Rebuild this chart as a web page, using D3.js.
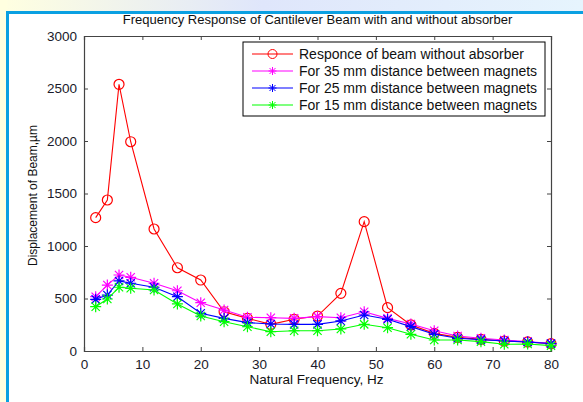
<!DOCTYPE html>
<html>
<head>
<meta charset="utf-8">
<script src="https://cdn.jsdelivr.net/npm/d3@7"></script>
<style>
  body { margin: 0; background: #fff; }
  svg { display: block; font-family: "Liberation Sans", Arial, sans-serif; }
</style>
</head>
<body>
<div id="chart"></div>
<script>
let freq = [2, 4, 6, 8, 12, 16, 20, 24, 28, 32, 36, 40, 44, 48, 52, 56, 60, 64, 68, 72, 76, 80];

let noAbsorber = [1270, 1438, 2540, 1993, 1162, 793, 676, 374, 311, 254, 302, 333, 549, 1232, 413, 248, 168, 130, 111, 95, 86, 70];
let mm35 = [517, 628, 724, 702, 645, 574, 460, 390, 321, 317, 311, 327, 317, 374, 311, 257, 193, 143, 121, 105, 90, 70];
let mm25 = [492, 533, 667, 645, 607, 517, 359, 311, 270, 257, 254, 254, 286, 343, 302, 232, 159, 121, 108, 95, 86, 70];
let mm15 = [422, 495, 607, 597, 581, 448, 333, 279, 231, 184, 193, 193, 210, 254, 222, 159, 105, 105, 89, 64, 67, 51];

let seriesNames = [
  "Responce of beam without absorber",
  "For 35 mm distance between magnets",
  "For 25 mm distance between magnets",
  "For 15 mm distance between magnets",
];
let seriesColors = ["#ff0000", "#ff00ff", "#0000ff", "#00ff00"];
let seriesMarkers = ["circle", "star", "star", "star"];

let xTicks = [0, 10, 20, 30, 40, 50, 60, 70, 80];
let yTicks = [0, 500, 1000, 1500, 2000, 2500, 3000];

let W = 583, H = 402;
let padL = 84, padR = 551, padT = 36, padB = 351;

let svg = d3.select("#chart").append("svg").attr("width", W).attr("height", H);

// slide frame
let defs = svg.append("defs");
let grad = defs.append("linearGradient").attr("id", "topgrad");
grad.append("stop").attr("offset", "0%").attr("stop-color", "#ffffe0");
grad.append("stop").attr("offset", "45%").attr("stop-color", "#dfe6fb");
grad.append("stop").attr("offset", "100%").attr("stop-color", "#e6f4fd");
svg.append("rect").attr("x", 0).attr("y", 0).attr("width", W).attr("height", 12).attr("fill", "url(#topgrad)");
svg.append("rect").attr("x", 0).attr("y", 0).attr("width", 7).attr("height", H).attr("fill", "#ffffe0");
svg.append("rect").attr("x", 7).attr("y", 11).attr("width", W - 7).attr("height", 3).attr("fill", "#0aa0e2");
svg.append("rect").attr("x", 6).attr("y", 11).attr("width", 3).attr("height", H - 11).attr("fill", "#0aa0e2");

let x = d3.scaleLinear().domain([0, 80]).range([padL, padR]);
let y = d3.scaleLinear().domain([0, 3000]).range([padB, padT]);

let axisColor = "#444";

// ticks on all four sides, pointing inward
let xAxisB = d3.axisBottom(x).tickValues(xTicks).tickSize(-4).tickPadding(8).tickFormat(d3.format("d"));
let xAxisT = d3.axisTop(x).tickValues(xTicks).tickSize(-4).tickFormat("");
let yAxisL = d3.axisLeft(y).tickValues(yTicks).tickSize(-4).tickPadding(7).tickFormat(d3.format("d"));
let yAxisR = d3.axisRight(y).tickValues(yTicks).tickSize(-4).tickFormat("");

function styleAxis(g) {
  g.select(".domain").attr("stroke", axisColor).attr("stroke-width", 1.2);
  g.selectAll(".tick line").attr("stroke", axisColor);
  g.selectAll(".tick text").attr("fill", "#1a1a2a").style("font-size", "13.5px");
}

svg.append("g").attr("transform", "translate(0," + padB + ")").call(xAxisB).call(styleAxis);
svg.append("g").attr("transform", "translate(0," + padT + ")").call(xAxisT).call(styleAxis);
svg.append("g").attr("transform", "translate(" + padL + ",0)").call(yAxisL).call(styleAxis);
svg.append("g").attr("transform", "translate(" + padR + ",0)").call(yAxisR).call(styleAxis);

// series
let allSeries = [noAbsorber, mm35, mm25, mm15];
let line = d3.line().x((d) => x(d[0])).y((d) => y(d[1]));

function starPath(r) {
  let a = r * 0.75;
  return "M" + -r + ",0L" + r + ",0M0," + -r + "L0," + r +
    "M" + -a + "," + -a + "L" + a + "," + a + "M" + -a + "," + a + "L" + a + "," + -a;
}

allSeries.forEach(function (vals, i) {
  let pts = freq.map((f, j) => [f, vals[j]]);
  svg.append("path")
    .datum(pts)
    .attr("d", line)
    .attr("fill", "none")
    .attr("stroke", seriesColors[i])
    .attr("stroke-width", 1.1);
  let g = svg.append("g");
  g.selectAll("path.m")
    .data(pts)
    .enter()
    .append("path")
    .attr("class", "m")
    .attr("transform", (d) => "translate(" + x(d[0]) + "," + y(d[1]) + ")")
    .attr("d", seriesMarkers[i] == "circle" ? d3.arc()({innerRadius: 0, outerRadius: 5, startAngle: 0, endAngle: 2 * Math.PI}) : starPath(5.5))
    .attr("fill", "none")
    .attr("stroke", seriesColors[i])
    .attr("stroke-width", 1.2);
});

// legend
let lg = svg.append("g").attr("transform", "translate(243,42)");
lg.append("rect").attr("width", 302).attr("height", 74).attr("fill", "#fff").attr("stroke", "#000");
seriesNames.forEach(function (name, i) {
  let ly = 12 + i * 17;
  lg.append("line").attr("x1", 9).attr("x2", 50).attr("y1", ly).attr("y2", ly)
    .attr("stroke", seriesColors[i]).attr("stroke-width", 1.1);
  lg.append("path")
    .attr("transform", "translate(29.5," + ly + ")")
    .attr("d", seriesMarkers[i] == "circle" ? d3.arc()({innerRadius: 0, outerRadius: 4.5, startAngle: 0, endAngle: 2 * Math.PI}) : starPath(4))
    .attr("fill", "none")
    .attr("stroke", seriesColors[i]);
  lg.append("text").attr("x", 56).attr("y", ly + 5).text(name)
    .style("font-size", "14px").attr("fill", "#111");
});

// titles
svg.append("text").attr("x", (padL + padR) / 2).attr("y", 24).attr("text-anchor", "middle")
  .style("font-size", "13px").attr("fill", "#111")
  .text("Frequency Response of Cantilever Beam with and without absorber");
svg.append("text").attr("x", (padL + padR) / 2 - 1).attr("y", 384).attr("text-anchor", "middle")
  .style("font-size", "13.5px").attr("fill", "#111")
  .text("Natural Frequency, Hz");
svg.append("text").attr("transform", "translate(37," + ((padT + padB) / 2 + 2) + ") rotate(-90)")
  .attr("text-anchor", "middle").style("font-size", "12px").attr("fill", "#111")
  .text("Displacement of Beam,µm");
</script>
</body>
</html>
